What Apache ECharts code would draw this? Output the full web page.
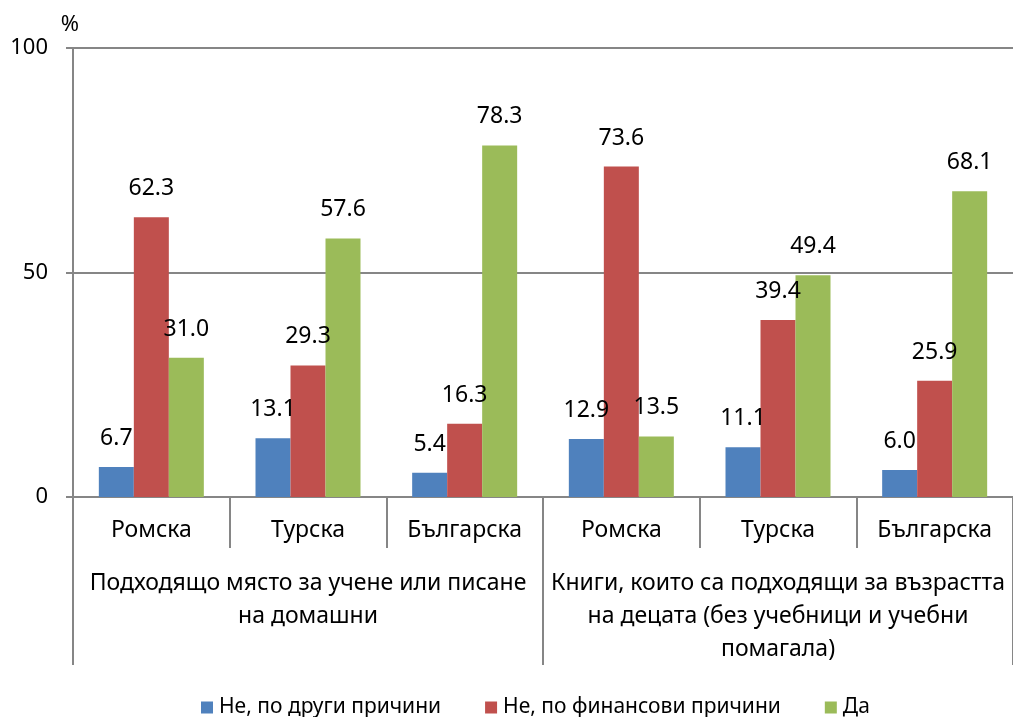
<!DOCTYPE html>
<html>
<head>
<meta charset="utf-8">
<script src="https://cdn.jsdelivr.net/npm/echarts@6/dist/echarts.min.js"></script>
<style>
  html, body { margin: 0; padding: 0; background: #fff; }
  #chart { width: 1013px; height: 717px; }
</style>
</head>
<body>
<div id="chart"></div>
<script>
// kategorie (dolny i górny poziom osi X)
const subCategories = ['Ромска', 'Турска', 'Българска', 'Ромска', 'Турска', 'Българска'];
const groupCategories = [
  'Подходящо място за учене или писане\nна домашни',
  'Книги, които са подходящи за възрастта\nна децата (без учебници и учебни\nпомагала)'
];
const seriesNames = ['Не, по други причини', 'Не, по финансови причини', 'Да'];
const otherReasons = [6.7, 13.1, 5.4, 12.9, 11.1, 6.0];
const financialReasons = [62.3, 29.3, 16.3, 73.6, 39.4, 25.9];
const yes = [31.0, 57.6, 78.3, 13.5, 49.4, 68.1];
const yTicks = [0, 50, 100];

const FONT = '"Noto Sans", sans-serif';
const AXIS = '#868686';
const colors = ['#4F81BD', '#C0504D', '#9BBB59'];

const chart = echarts.init(document.getElementById('chart'));

const makeSeries = (name, data, color) => ({
  name: name,
  type: 'bar',
  xAxisIndex: 0,
  data: data,
  barWidth: 35,
  barGap: '0%',
  itemStyle: { color: color },
  label: {
    show: true,
    position: 'top',
    distance: 17,
    color: '#000',
    fontFamily: FONT,
    fontSize: 23,
    formatter: p => p.value.toFixed(1)
  }
});

chart.setOption({
  animation: false,
  textStyle: { fontFamily: FONT },
  grid: { left: 73, right: -4, top: 48, bottom: 220, containLabel: false },
  legend: {
    bottom: -6,
    left: 196,
    itemWidth: 12,
    itemHeight: 12,
    itemGap: 44,
    icon: 'rect',
    textStyle: { fontFamily: FONT, fontSize: 21, color: '#000', padding: [0, 0, 0, 1] },
    data: seriesNames
  },
  xAxis: [
    {
      type: 'category',
      data: subCategories,
      position: 'bottom',
      axisLine: { show: true, lineStyle: { color: AXIS, width: 2 } },
      axisTick: { show: true, interval: 0, length: 51, lineStyle: { color: AXIS, width: 2 } },
      axisLabel: { interval: 0, margin: 22, color: '#000', fontFamily: FONT, fontSize: 23 }
    },
    {
      type: 'category',
      data: groupCategories,
      position: 'bottom',
      axisLine: { show: false },
      axisTick: { show: true, interval: 0, length: 168, lineStyle: { color: AXIS, width: 2 } },
      axisLabel: { interval: 0, margin: 70, color: '#000', fontFamily: FONT, fontSize: 23, lineHeight: 33 }
    }
  ],
  yAxis: {
    type: 'value',
    min: 0,
    max: 100,
    interval: 50,
    name: '%',
    nameLocation: 'end',
    nameGap: 12,
    nameTextStyle: { color: '#000', fontFamily: FONT, fontSize: 22, align: 'center', padding: [0, 0, 0, -6] },
    axisLine: { show: true, lineStyle: { color: AXIS, width: 2 } },
    axisTick: { show: true, length: 7, lineStyle: { color: AXIS, width: 2 } },
    splitLine: { show: true, lineStyle: { color: AXIS, width: 2 } },
    axisLabel: {
      margin: 25,
      color: '#000',
      fontFamily: FONT,
      fontSize: 22,
      formatter: v => (yTicks.includes(v) ? String(v) : '')
    }
  },
  series: [
    makeSeries(seriesNames[0], otherReasons, colors[0]),
    makeSeries(seriesNames[1], financialReasons, colors[1]),
    makeSeries(seriesNames[2], yes, colors[2])
  ]
});
</script>
</body>
</html>
